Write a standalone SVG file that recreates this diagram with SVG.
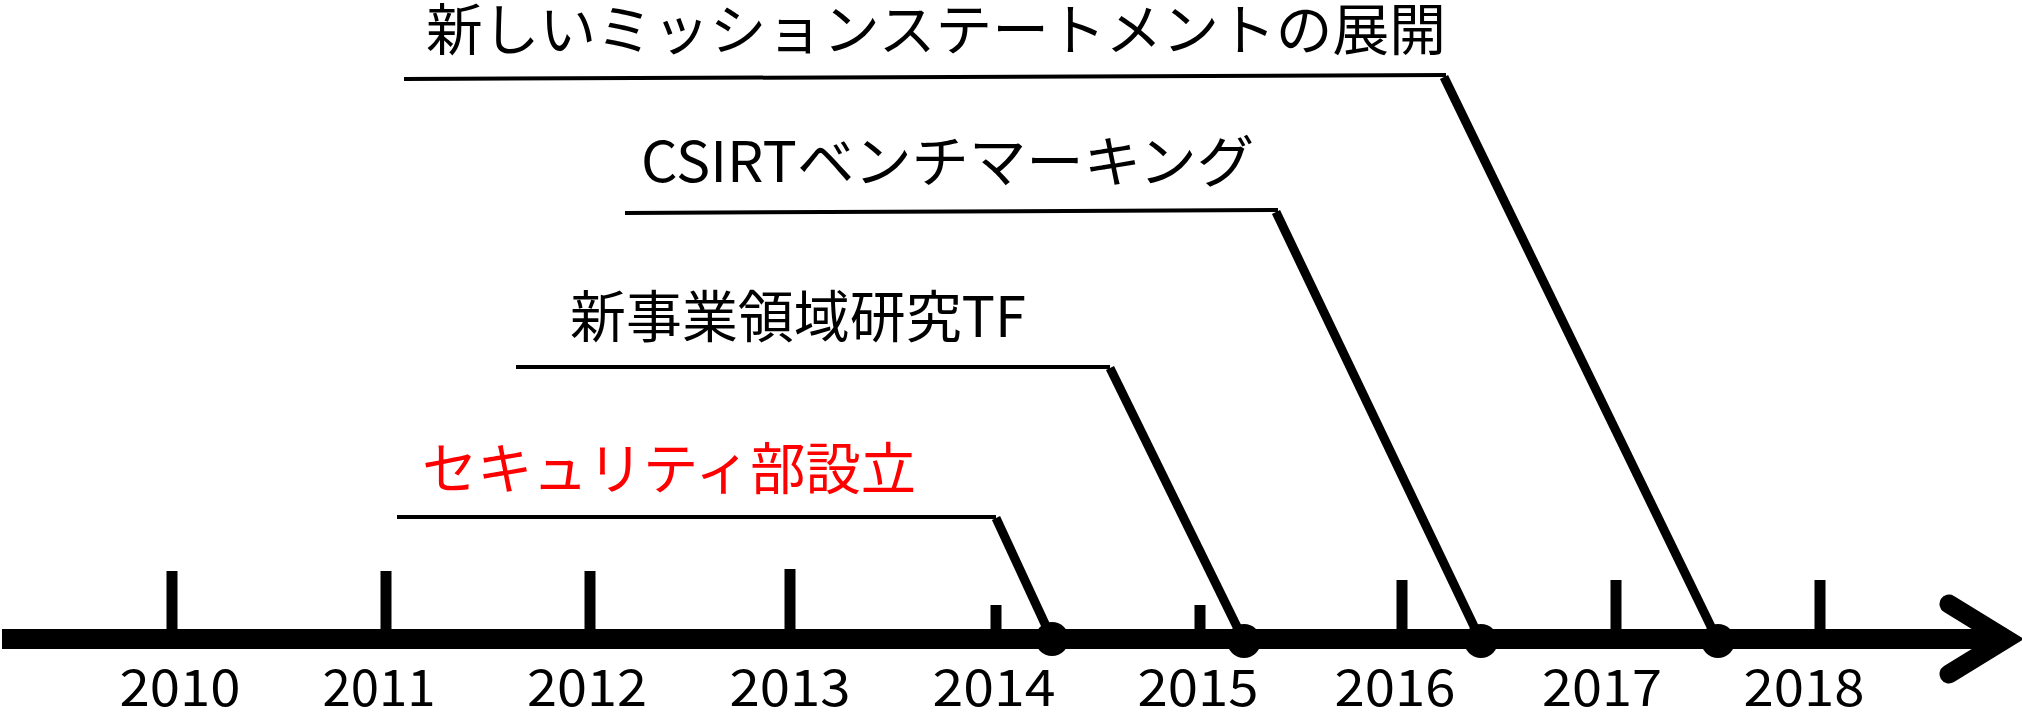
<svg xmlns="http://www.w3.org/2000/svg" width="2022" height="721" viewBox="0 0 2022 721">
<style>
.t{font-family:"Noto Sans CJK JP","Noto Sans",sans-serif;font-size:56px;fill:#000}
.y{font-family:"Noto Sans CJK JP","Noto Sans",sans-serif;font-size:51px;fill:#000;text-anchor:middle}
.red{fill:#ff0000}
.hl{stroke:#000;stroke-width:4;fill:none}
.dg{stroke:#000;stroke-width:9;fill:none}
.tk{stroke:#000;stroke-width:11}
</style>
<rect width="2022" height="721" fill="#fff"/>
<g id="axis">
<line x1="2" y1="639" x2="2000" y2="639" stroke="#000" stroke-width="20"/>
<polyline points="1949,604 2006,639 1949,674" fill="none" stroke="#000" stroke-width="19" stroke-linecap="round" stroke-linejoin="miter"/>
<line class="tk" x1="172" y1="571" x2="172" y2="635"/>
<line class="tk" x1="386" y1="571" x2="386" y2="635"/>
<line class="tk" x1="590" y1="571" x2="590" y2="635"/>
<line class="tk" x1="790" y1="569" x2="790" y2="635"/>
<line class="tk" x1="996" y1="605" x2="996" y2="635"/>
<line class="tk" x1="1200" y1="605" x2="1200" y2="635"/>
<line class="tk" x1="1402" y1="580" x2="1402" y2="635"/>
<line class="tk" x1="1616" y1="580" x2="1616" y2="635"/>
<line class="tk" x1="1820" y1="580" x2="1820" y2="635"/>
</g>
<g id="years">
<text class="y" x="180" y="706" textLength="121" lengthAdjust="spacingAndGlyphs">2010</text>
<text class="y" x="379" y="706" textLength="113" lengthAdjust="spacingAndGlyphs">2011</text>
<text class="y" x="587" y="706" textLength="120" lengthAdjust="spacingAndGlyphs">2012</text>
<text class="y" x="790" y="706" textLength="121" lengthAdjust="spacingAndGlyphs">2013</text>
<text class="y" x="994" y="706" textLength="123" lengthAdjust="spacingAndGlyphs">2014</text>
<text class="y" x="1198" y="706" textLength="121" lengthAdjust="spacingAndGlyphs">2015</text>
<text class="y" x="1395" y="706" textLength="121" lengthAdjust="spacingAndGlyphs">2016</text>
<text class="y" x="1602" y="706" textLength="120" lengthAdjust="spacingAndGlyphs">2017</text>
<text class="y" x="1804" y="706" textLength="121" lengthAdjust="spacingAndGlyphs">2018</text>
</g>
<g id="event-security">
<text class="t red" x="422" y="489" textLength="494" lengthAdjust="spacingAndGlyphs">セキュリティ部設立</text>
<line class="hl" x1="397" y1="517" x2="996" y2="517"/>
<circle cx="1052" cy="639" r="17" fill="#000"/>
</g>
<g id="event-tf">
<text class="t" x="570" y="337" textLength="456" lengthAdjust="spacingAndGlyphs">新事業領域研究TF</text>
<line class="hl" x1="516" y1="367" x2="1110" y2="367"/>
<circle cx="1244" cy="641" r="17" fill="#000"/>
</g>
<g id="event-csirt">
<text class="t" x="641" y="182" textLength="613" lengthAdjust="spacingAndGlyphs">CSIRTベンチマーキング</text>
<line class="hl" x1="625" y1="213" x2="1278" y2="210"/>
<circle cx="1481" cy="641" r="17" fill="#000"/>
</g>
<g id="event-mission">
<text class="t" x="426" y="50" textLength="1020" lengthAdjust="spacingAndGlyphs">新しいミッションステートメントの展開</text>
<line class="hl" x1="404" y1="79" x2="1446" y2="75"/>
<circle cx="1718" cy="641" r="17" fill="#000"/>
</g>
<g id="connectors">
<line class="dg" x1="996" y1="518" x2="1052" y2="639"/>
<line class="dg" x1="1110" y1="368" x2="1244" y2="641"/>
<line class="dg" x1="1276" y1="212" x2="1481" y2="641"/>
<line class="dg" x1="1444" y1="77" x2="1718" y2="641"/>
</g>
</svg>
